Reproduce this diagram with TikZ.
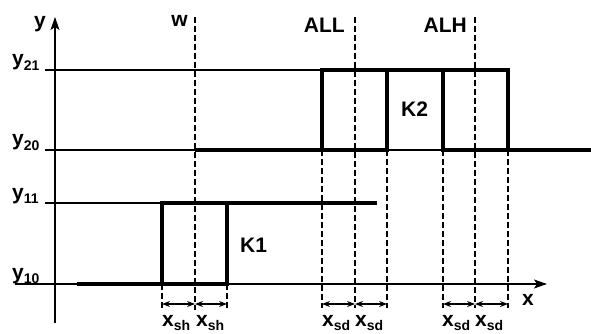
\documentclass[tikz,border=0pt]{standalone}
\usepackage{fontspec}
\setmainfont{Liberation Sans}
\usetikzlibrary{arrows.meta}

\newcommand{\lsub}[2]{#1\raisebox{-4.5pt}{\fontsize{14}{14}\selectfont #2}}

\begin{document}
\begin{tikzpicture}[x=1pt, y=-1pt,
    % --- Styles ---
    thinLine/.style={line width=1.2pt},
    thickLine/.style={line width=3.6pt, line join=miter},
    guideLine/.style={line width=1.3pt, dash pattern=on 6pt off 3pt},
    axisLine/.style={
      line width=1.4pt,
      -{Stealth[length=13pt, width=9pt, inset=3pt]}
    },
    dimLine/.style={
      line width=1.2pt,
      {Stealth[length=8pt, width=6pt]}-{Stealth[length=8pt, width=6pt]}
    },
    textNode/.style={
      font=\fontsize{21}{21}\selectfont\bfseries,
      inner sep=0pt
    }
]
\useasboundingbox (0,0) rectangle (591,334);

%=====================
% Axes and levels
%=====================
\draw[axisLine] (55,323) -- (55,17);
\draw[axisLine] (15,284) -- (547,284);
\draw[thinLine] (45,70) -- (322,70);
\draw[thinLine] (45,150) -- (195,150);
\draw[thinLine] (387,150) -- (443,150);
\draw[thinLine] (45,203) -- (162,203);

\node[textNode, anchor=base east] (yAxis) at (46,28) {y};
\node[textNode, anchor=base west] (xAxis) at (522,305) {x};
\node[textNode, anchor=base west] (y21) at (12,66) {\lsub{y}{21}};
\node[textNode, anchor=base west] (y20) at (12,146) {\lsub{y}{20}};
\node[textNode, anchor=base west] (y11) at (12,199) {\lsub{y}{11}};
\node[textNode, anchor=base west] (y10) at (12,279) {\lsub{y}{10}};

%=====================
% Guide lines
%=====================
\draw[guideLine] (195,17) -- (195,310);
\draw[guideLine] (355,17) -- (355,308);
\draw[guideLine] (475,17) -- (475,308);
\foreach \xg in {322,387,443,508}
  \draw[guideLine] (\xg,150) -- (\xg,308);
\foreach \xg in {162,227}
  \draw[guideLine] (\xg,284) -- (\xg,308);

\node[textNode, anchor=base east] (wLabel) at (188,27) {w};
\node[textNode, anchor=base east] (allLabel) at (345,33) {ALL};
\node[textNode, anchor=base east] (alhLabel) at (467,33) {ALH};

%=====================
% K1
%=====================
\draw[thickLine] (77,284) -- (162,284) -- (162,203) -- (377,203);
\draw[thickLine] (162,284) -- (227,284) -- (227,203);
\node[textNode, anchor=base west] (k1) at (240,252) {K1};

%=====================
% K2
%=====================
\draw[thickLine] (195,150) -- (387,150) -- (387,70);
\draw[thickLine] (322,150) -- (322,70) -- (508,70) -- (508,150);
\draw[thickLine] (443,70) -- (443,150) -- (591,150);
\node[textNode, anchor=base west] (k2) at (401,117) {K2};

%=====================
% Hysteresis widths
%=====================
\foreach \xa/\xb in {162/195,195/227,322/355,355/387,443/475,475/508}
  \draw[dimLine] (\xa,304) -- (\xb,304);

\node[textNode, anchor=base west] (sh1) at (162,326) {\lsub{x}{sh}};
\node[textNode, anchor=base west] (sh2) at (196,326) {\lsub{x}{sh}};
\node[textNode, anchor=base west] (sd1) at (322,326) {\lsub{x}{sd}};
\node[textNode, anchor=base west] (sd2) at (355,326) {\lsub{x}{sd}};
\node[textNode, anchor=base west] (sd3) at (442,326) {\lsub{x}{sd}};
\node[textNode, anchor=base west] (sd4) at (475,326) {\lsub{x}{sd}};

\end{tikzpicture}
\end{document}
